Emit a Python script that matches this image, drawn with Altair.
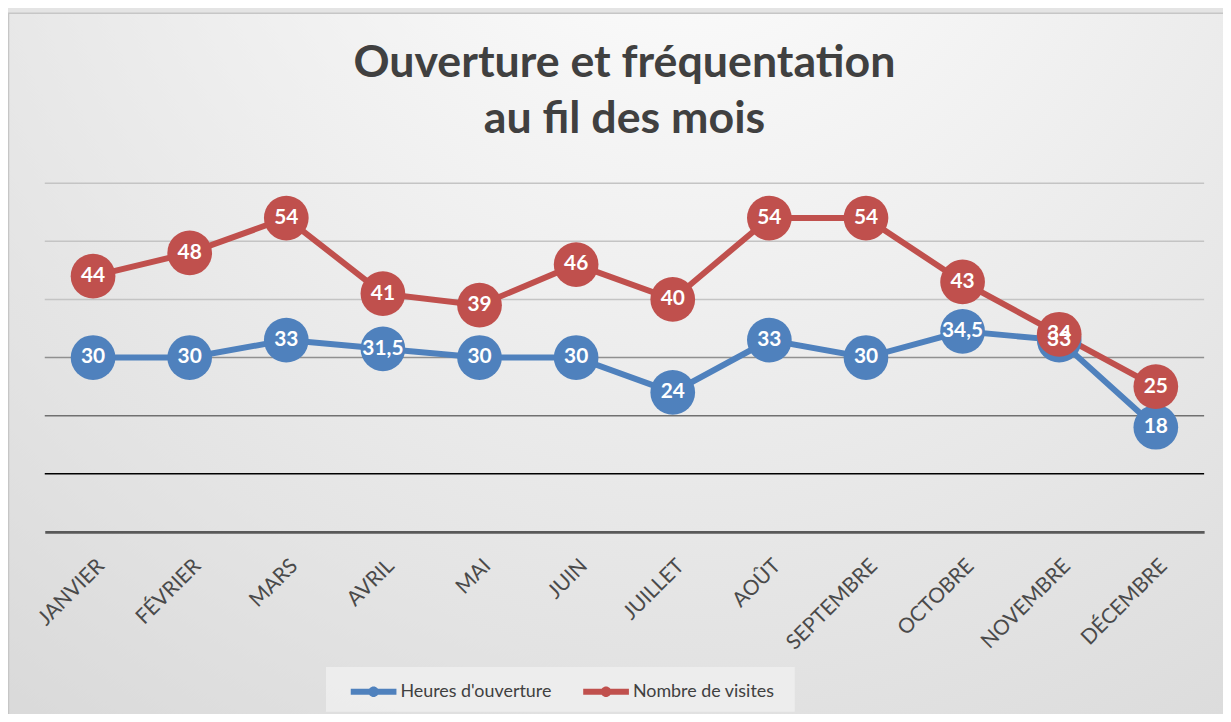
import altair as alt
import pandas as pd

mois = ["JANVIER", "FÉVRIER", "MARS", "AVRIL", "MAI", "JUIN", "JUILLET",
        "AOÛT", "SEPTEMBRE", "OCTOBRE", "NOVEMBRE", "DÉCEMBRE"]
heures = [30, 30, 33, 31.5, 30, 30, 24, 33, 30, 34.5, 33, 18]
visites = [44, 48, 54, 41, 39, 46, 40, 54, 54, 43, 34, 25]
series = ["Heures d'ouverture", "Nombre de visites"]
colors = ["#4F81BD", "#C0504D"]
grid_values = [10, 20, 30, 40, 50, 60]
grid_colors = ["#000000", "#707070", "#909090", "#c4c4c4", "#c4c4c4", "#c4c4c4"]

rows = []
for name, vals in zip(series, [heures, visites]):
    for i, (m, v) in enumerate(zip(mois, vals)):
        rows.append({"mois": m, "valeur": v, "serie": name, "ordre": i,
                     "label": f"{v:g}".replace(".", ",")})
df = pd.DataFrame(rows)

FONT = "Lato"
y_scale = alt.Scale(domain=[0, 60], nice=False, zero=True)

x_enc = alt.X("mois:N", sort=mois,
              scale=alt.Scale(type="point", padding=0.5),
              axis=alt.Axis(title=None, labelAngle=-45, ticks=False, tickSize=0,
                            labelPadding=23, domainColor="#595959", domainWidth=3,
                            labelFont=FONT, labelFontSize=21, labelColor="#4a4a4a",
                            grid=False, zindex=1))
y_enc = alt.Y("valeur:Q", scale=y_scale, axis=None)
color_scale = alt.Scale(domain=series, range=colors)

legend_path = ("M-1,-0.13L1,-0.13L1,0.13L-1,0.13Z "
               "M0.23,0A0.23,0.23 0 1,1 -0.23,0A0.23,0.23 0 1,1 0.23,0Z")

one = pd.DataFrame({"k": [0]})

bg = alt.Chart(one).mark_rect(
    fill=alt.Gradient(gradient="radial",
                      stops=[alt.GradientStop(color="#ffffff", offset=0),
                             alt.GradientStop(color="#d2d2d2", offset=1)],
                      x1=0.55, y1=0.05, x2=0.55, y2=0.05, r1=0, r2=1.1),
    stroke="#c6c6c6", strokeWidth=1.5,
).encode(x=alt.value(-36.5), x2=alt.value(1195), y=alt.value(-171), y2=alt.value(545))

legend_box = alt.Chart(one).mark_rect(fill="#efefef", opacity=0.85).encode(
    x=alt.value(283), x2=alt.value(755), y=alt.value(487), y2=alt.value(532))

grid = alt.Chart(pd.DataFrame({"g": grid_values})).mark_rule(strokeWidth=1.5).encode(
    y=alt.Y("g:Q", scale=y_scale, axis=None),
    color=alt.Color("g:O", scale=alt.Scale(domain=grid_values, range=grid_colors), legend=None),
)

base = alt.Chart(df)

lines = base.mark_line(strokeWidth=6).encode(
    x=x_enc, y=y_enc,
    color=alt.Color("serie:N", scale=color_scale, legend=None),
    order="ordre:Q",
)

points = base.mark_circle(size=2025, opacity=1).encode(
    x=x_enc, y=y_enc,
    color=alt.Color("serie:N", scale=color_scale,
                    legend=alt.Legend(title=None, orient="none", legendX=308, legendY=489,
                                      direction="horizontal",
                                      padding=0, symbolType=legend_path, symbolSize=2116,
                                      symbolStrokeWidth=0, symbolOpacity=1,
                                      labelFont=FONT, labelFontSize=18,
                                      labelColor="#404040", labelOffset=4,
                                      columnPadding=32, zindex=5)),
)

labels = base.mark_text(font=FONT, fontWeight="bold", fontSize=21, color="white",
                        align="center", baseline="middle").encode(
    x=x_enc, y=y_enc, text="label:N",
)

chart = alt.layer(bg, legend_box, grid, lines, points, labels).resolve_scale(
    color="independent").properties(
    width=1167, height=351,
    autosize=alt.AutoSizeParams(type="none"),
    padding={"left": 37, "top": 174, "right": 19, "bottom": 181},
    title=alt.TitleParams(text=["Ouverture et fréquentation", "au fil des mois"],
                          font=FONT, fontSize=45, fontWeight="bold", color="#404040",
                          anchor="middle", offset=-130, lineHeight=56, zindex=5),
    background="#e4e4e4",
).configure_view(stroke=None)

chart.save("out.html", embed_options={"renderer": "svg", "actions": False})
